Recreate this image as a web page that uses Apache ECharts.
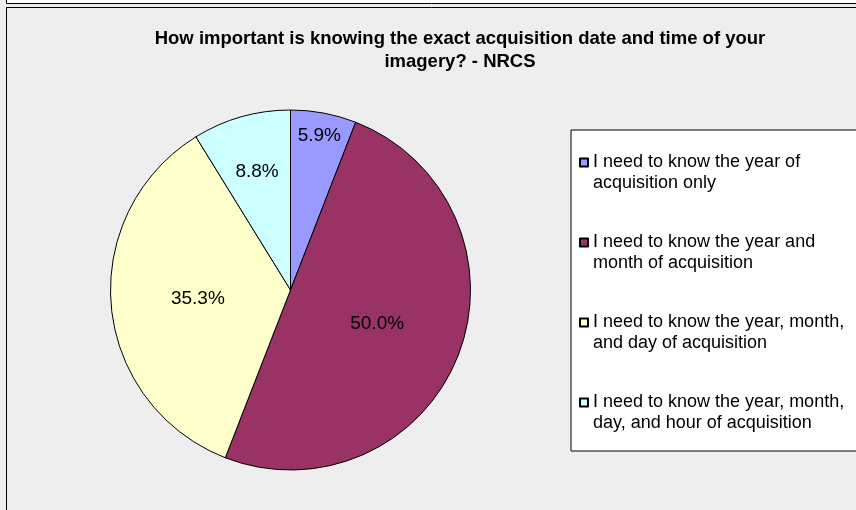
<!DOCTYPE html>
<html>
<head>
<meta charset="utf-8">
<script src="https://cdn.jsdelivr.net/npm/echarts@6/dist/echarts.min.js"></script>
<style>
html,body{margin:0;padding:0;background:#eeeeee;}
#chart{width:856px;height:510px;}
</style>
</head>
<body>
<div id="chart"></div>
<script>
// Data
var titleText = 'How important is knowing the exact acquisition date and time of your\nimagery? - NRCS';
var categories = [
  'I need to know the year of\nacquisition only',
  'I need to know the year and\nmonth of acquisition',
  'I need to know the year, month,\nand day of acquisition',
  'I need to know the year, month,\nday, and hour of acquisition'
];
var percentValues = [5.9, 50.0, 35.3, 8.8];
var sliceColors = ['#9999FF', '#993366', '#FFFFCC', '#CCFFFF'];

var chart = echarts.init(document.getElementById('chart'), null, {renderer: 'canvas'});

var FONT = 'Liberation Sans, Arial, sans-serif';
var CENTER = [290.5, 290];
var R = 180;

function fmt(p) { return p.value.toFixed(1) + '%'; }

function buildData(showIdx) {
  return categories.map(function (name, i) {
    return {
      name: name,
      value: percentValues[i],
      itemStyle: {color: sliceColors[i]},
      label: {show: showIdx.indexOf(i) >= 0}
    };
  });
}

function overlaySeries(r0, showIdx) {
  return {
    type: 'pie',
    silent: true,
    center: CENTER,
    radius: [r0, R],
    startAngle: 90,
    clockwise: true,
    avoidLabelOverlap: false,
    animation: false,
    itemStyle: {opacity: 0, borderWidth: 0},
    label: {
      position: 'inside', color: '#000', fontSize: 19, fontFamily: FONT,
      formatter: fmt, opacity: 1
    },
    labelLine: {show: false},
    emphasis: {disabled: true},
    data: categories.map(function (name, i) {
      return {
        name: name,
        value: percentValues[i],
        itemStyle: {color: 'rgba(0,0,0,0)'},
        label: {show: showIdx.indexOf(i) >= 0}
      };
    })
  };
}

var legendIcon = 'path://M0,0L8,0L8,8L0,8Z M0,29L0,29';

chart.setOption({
  backgroundColor: '#eeeeee',
  animation: false,
  graphic: [
    {type: 'rect', z: -10, shape: {x: 6.5, y: -20, width: 1000, height: 23.5},
     style: {fill: '#ffffff', stroke: '#000000', lineWidth: 1}},
    {type: 'rect', z: -10, shape: {x: 6.5, y: 7.5, width: 1000, height: 1000},
     style: {fill: '#eeeeee', stroke: '#000000', lineWidth: 1}}
  ],
  title: {
    text: titleText,
    left: 460,
    top: 27,
    padding: 0,
    textAlign: 'center',
    textStyle: {
      fontFamily: FONT, fontWeight: 'bold', fontSize: 18.5,
      lineHeight: 23, color: '#000'
    }
  },
  legend: {
    orient: 'vertical',
    left: 571,
    top: 130,
    padding: [22, 120, 17, 8],
    backgroundColor: '#ffffff',
    borderColor: '#000000',
    borderWidth: 1,
    itemGap: 38,
    itemWidth: 8,
    itemHeight: 29,
    icon: legendIcon,
    selectedMode: false,
    data: categories,
    textStyle: {fontFamily: FONT, fontSize: 18, lineHeight: 21, color: '#000'}
  },
  series: [
    {
      type: 'pie',
      center: CENTER,
      radius: [0, R],
      startAngle: 90,
      clockwise: true,
      avoidLabelOverlap: false,
      animation: false,
      itemStyle: {borderColor: '#000000', borderWidth: 1},
      label: {
        position: 'inside', color: '#000', fontSize: 19, fontFamily: FONT,
        formatter: fmt
      },
      labelLine: {show: false},
      emphasis: {disabled: true},
      data: buildData([1, 2])
    },
    overlaySeries(127, [0]),
    overlaySeries(59, [3])
  ]
});
</script>
</body>
</html>
